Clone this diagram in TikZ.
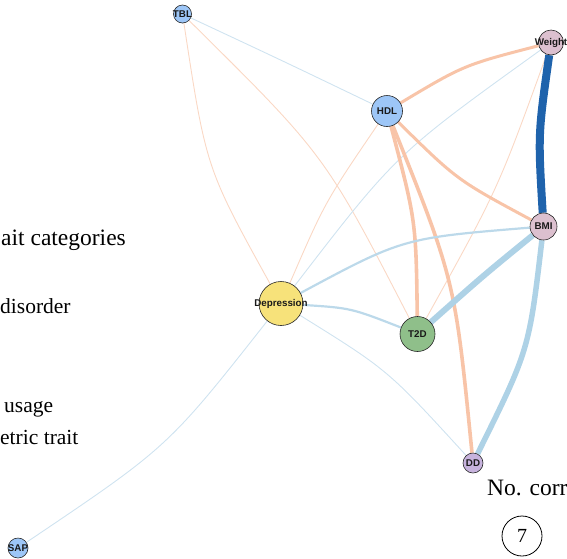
\documentclass[tikz,border=0pt]{standalone}
\usepackage{fontspec}
\setmainfont{Liberation Serif}
\newfontfamily\labfont{Liberation Sans}
\pgfdeclarelayer{background}
\pgfsetlayers{background,main}
\definecolor{bluethin}{HTML}{CFE3F0}
\definecolor{bluemed}{HTML}{BCD9EA}
\definecolor{bluethick}{HTML}{AED2E6}
\definecolor{bluedark}{HTML}{1F63AC}
\definecolor{orthin}{HTML}{FAD8C5}
\definecolor{orthick}{HTML}{F8C4A8}
\definecolor{nblue}{HTML}{9DC6F7}
\definecolor{npink}{HTML}{DCC0CF}
\definecolor{nyellow}{HTML}{F7E27A}
\definecolor{ngreen}{HTML}{8FBF8A}
\definecolor{nlav}{HTML}{C7B3DD}
\begin{document}
\begin{tikzpicture}[x=1pt,y=-1pt,
  vtx/.style={circle,draw=black!85,line width=0.6pt,inner sep=0pt},
  lab/.style={font=\labfont\bfseries\fontsize{9.8}{10}\selectfont,inner sep=0pt,text=black!90},
  legitem/.style={font=\fontsize{21.5}{24}\selectfont,anchor=base west,inner sep=0pt},
  legtitle/.style={font=\fontsize{23.5}{26}\selectfont,anchor=base west,inner sep=0pt},
  bthin/.style={draw=bluethin,line width=0.9pt},
  bmed/.style={draw=bluemed,line width=2.2pt},
  bthick/.style={draw=bluethick,line width=6pt},
  bdark/.style={draw=bluedark,line width=8pt},
  othin/.style={draw=orthin,line width=0.9pt},
  othick/.style={draw=orthick,line width=3pt},
  othicker/.style={draw=orthick,line width=3.6pt}
]
\useasboundingbox (0,0) rectangle (567,558);
\begin{scope}
\clip (0,0) rectangle (567,558);
% nodes
\node[vtx,fill=nblue,minimum size=18pt] (tbl) at (182.5,14) {};
\node[vtx,fill=npink,minimum size=25pt] (wt) at (551,42.5) {};
\node[vtx,fill=nblue,minimum size=31pt] (hdl) at (387,111) {};
\node[vtx,fill=npink,minimum size=27pt] (bmi) at (543.5,226.5) {};
\node[vtx,fill=nyellow,minimum size=44pt] (dep) at (281,303.5) {};
\node[vtx,fill=ngreen,minimum size=35pt] (t2d) at (417.5,334) {};
\node[vtx,fill=nlav,minimum size=20pt] (dd) at (473,463) {};
\node[vtx,fill=nblue,minimum size=20pt] (sap) at (18,548) {};
\node[lab] (tbll) at (tbl) {TBL};
\node[lab] (wtl) at (wt) {Weight};
\node[lab] (hdll) at (hdl) {HDL};
\node[lab] (bmil) at (bmi) {BMI};
\node[lab] (depl) at (dep) {Depression};
\node[lab] (t2dl) at (t2d) {T2D};
\node[lab] (ddl) at (dd) {DD};
\node[lab] (sapl) at (sap) {SAP};
% edges
\begin{pgfonlayer}{background}
\draw[othin] (tbl) .. controls (206,168) .. (dep);
\draw[othin] (tbl) .. controls (325,155) .. (t2d);
\draw[bthin] (tbl) .. controls (283,61) .. (hdl);
\draw[othin] (hdl) .. controls (325,202) .. (dep);
\draw[bthin] (wt) .. controls (396,154) .. (dep);
\draw[othin] (wt) .. controls (498,189) .. (t2d);
\draw[othick] (hdl) .. controls (464,65) .. (wt);
\draw[othick] (hdl) .. controls (457,180) .. (bmi);
\draw[othicker] (hdl) .. controls (416,221) .. (t2d);
\draw[othicker] (hdl) .. controls (455,281) .. (dd);
\draw[bmed] (bmi) .. controls (403,238) .. (dep);
\draw[bthick] (bmi) .. controls (484,275) .. (t2d);
\draw[bthick,line width=5.5pt] (bmi) .. controls (529,350) .. (dd);
\draw[bmed] (dep) .. controls (351,308) .. (t2d);
\draw[bthin] (dep) .. controls (388,370) .. (dd);
\draw[bthin] (dep) .. controls (168,447) .. (sap);
\draw[bdark] (wt) .. controls (538,134) .. (bmi);
\end{pgfonlayer}
% legend
\node[legtitle] (tcat) at (1,245) {ait categories};
\node[legitem] (ldis) at (0,313) {disorder};
\node[legitem] (lusg) at (4,412) {usage};
\node[legitem] (ltrt) at (0,444) {etric trait};
\node[legtitle] (ncor) at (487,495) {No. corr};
\node[circle,draw=black,line width=0.8pt,minimum size=40pt,inner sep=0pt,font=\fontsize{20}{22}\selectfont] (seven) at (522,536) {7};
\end{scope}
\end{tikzpicture}
\end{document}
